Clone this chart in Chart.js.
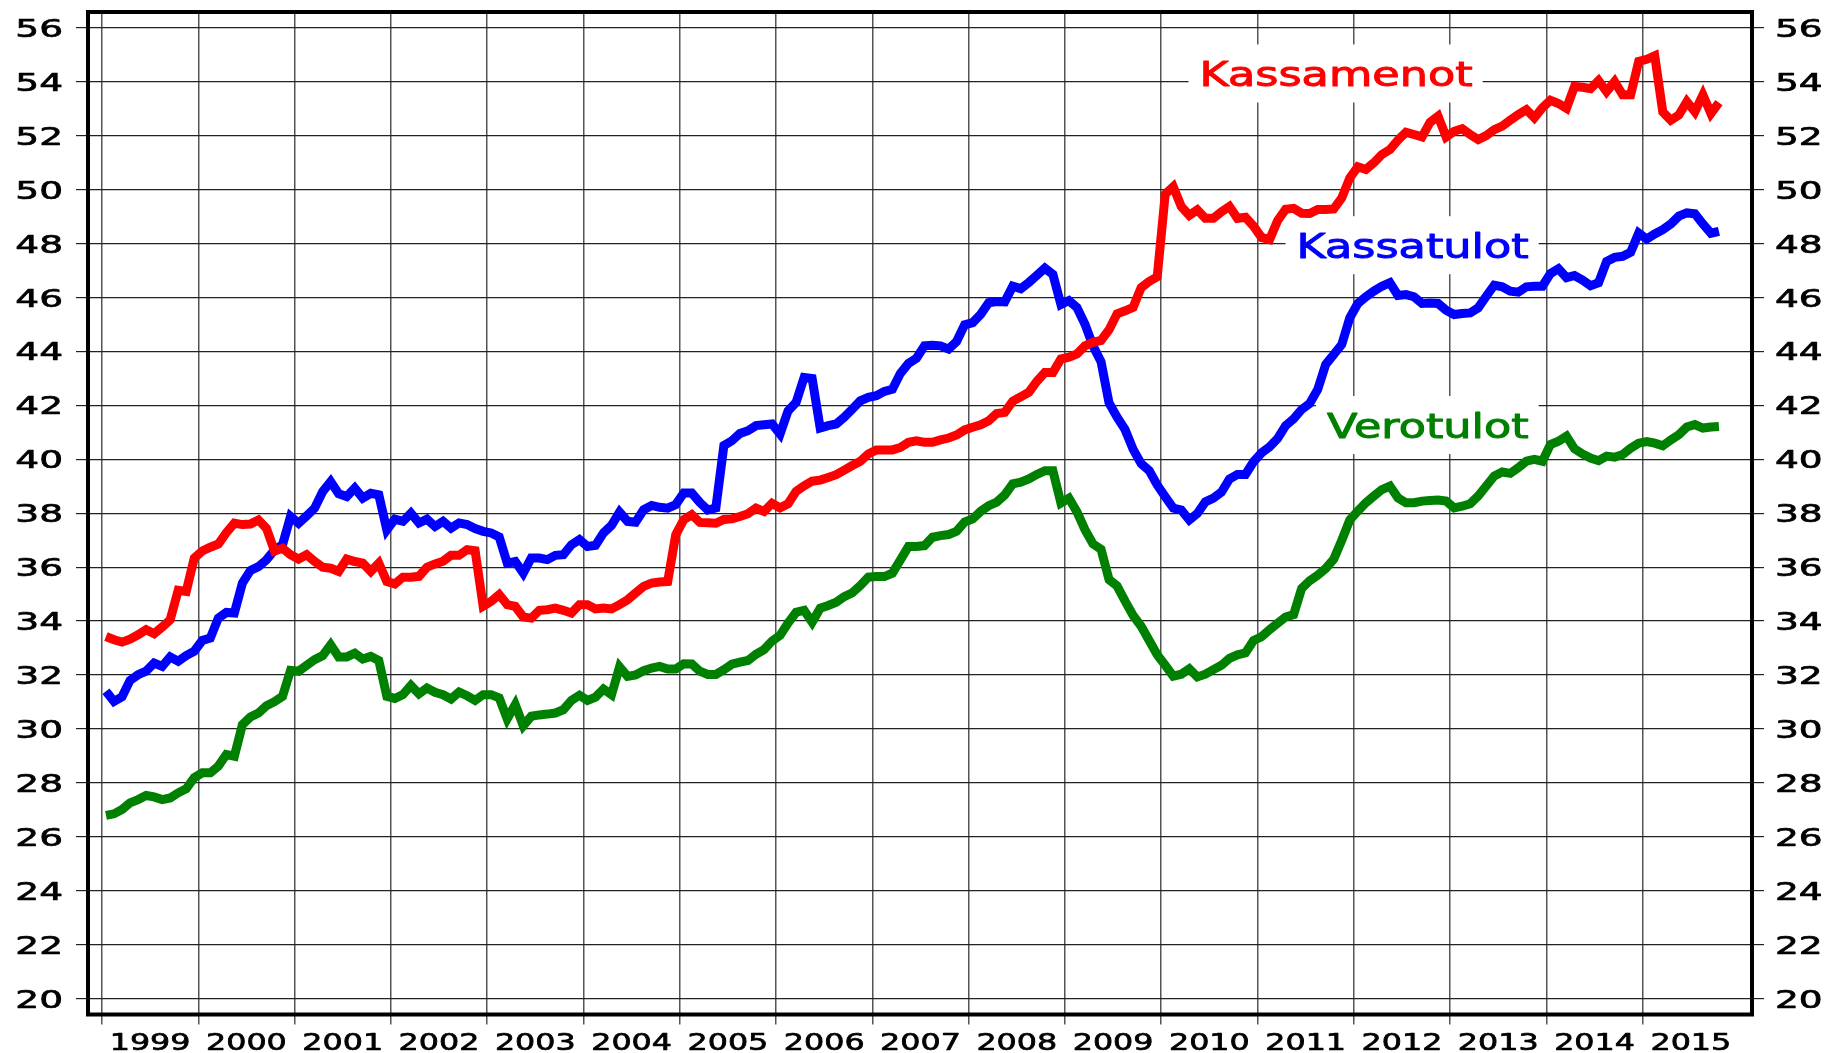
<!DOCTYPE html>
<html>
<head>
<meta charset="utf-8">
<title>Kassamenot, kassatulot ja verotulot</title>
<script src="https://cdn.jsdelivr.net/npm/chart.js@4.4.1/dist/chart.umd.min.js"></script>
<style>
  html, body { margin: 0; padding: 0; background: #fff; }
  canvas { display: block; }
</style>
</head>
<body>
<canvas id="valtio_chart" width="1827" height="1053"></canvas>
<script>
// 12 kk liukuvat summat, mrd. euroa, tammikuu 1999 - lokakuu 2015
let startYear = 1999;
let yearTicks = [1999, 2000, 2001, 2002, 2003, 2004, 2005, 2006, 2007, 2008, 2009, 2010, 2011, 2012, 2013, 2014, 2015];
let valueTicks = [20, 22, 24, 26, 28, 30, 32, 34, 36, 38, 40, 42, 44, 46, 48, 50, 52, 54, 56];

let kassamenot = [
    33.43, 33.31, 33.22, 33.33, 33.49, 33.68, 33.53, 33.78, 34.05, 35.14, 35.10, 36.33,
    36.60, 36.74, 36.86, 37.28, 37.63, 37.58, 37.60, 37.75, 37.44, 36.60, 36.70, 36.46,
    36.30, 36.46, 36.21, 36.00, 35.96, 35.84, 36.30, 36.21, 36.15, 35.84, 36.15, 35.47,
    35.38, 35.63, 35.63, 35.66, 36.00, 36.12, 36.22, 36.44, 36.44, 36.65, 36.61, 34.55,
    34.73, 34.98, 34.61, 34.55, 34.15, 34.11, 34.40, 34.42, 34.48, 34.40, 34.30, 34.61,
    34.61, 34.45, 34.48, 34.45, 34.61, 34.79, 35.04, 35.29, 35.41, 35.45, 35.47, 37.20,
    37.76, 37.95, 37.66, 37.65, 37.63, 37.77, 37.79, 37.88, 37.98, 38.19, 38.07, 38.37,
    38.20, 38.35, 38.81, 39.02, 39.19, 39.23, 39.33, 39.43, 39.60, 39.77, 39.93, 40.20,
    40.35, 40.35, 40.35, 40.44, 40.63, 40.69, 40.63, 40.63, 40.72, 40.79, 40.90, 41.09,
    41.19, 41.28, 41.43, 41.70, 41.74, 42.16, 42.32, 42.49, 42.89, 43.22, 43.22, 43.72,
    43.79, 43.91, 44.21, 44.34, 44.41, 44.81, 45.40, 45.51, 45.64, 46.37, 46.60, 46.77,
    49.84, 50.11, 49.38, 49.05, 49.25, 48.94, 48.94, 49.18, 49.38, 48.94, 48.98, 48.65,
    48.23, 48.15, 48.85, 49.28, 49.31, 49.13, 49.12, 49.27, 49.27, 49.29, 49.70, 50.44,
    50.85, 50.75, 51.00, 51.31, 51.49, 51.84, 52.13, 52.05, 51.96, 52.50, 52.73, 51.96,
    52.17, 52.26, 52.05, 51.86, 52.01, 52.23, 52.36, 52.58, 52.79, 52.97, 52.67, 53.04,
    53.32, 53.20, 53.02, 53.83, 53.80, 53.75, 54.05, 53.64, 54.01, 53.52, 53.52, 54.76,
    54.84, 54.97, 52.89, 52.58, 52.77, 53.27, 52.89, 53.52, 52.83, 53.23
];

let kassatulot = [
    31.40, 31.02, 31.19, 31.80, 32.01, 32.14, 32.44, 32.32, 32.67, 32.51, 32.72, 32.88,
    33.28, 33.37, 34.11, 34.32, 34.30, 35.41, 35.88, 36.02, 36.27, 36.64, 36.83, 37.88,
    37.63, 37.90, 38.19, 38.80, 39.17, 38.72, 38.62, 38.93, 38.56, 38.74, 38.68, 37.38,
    37.78, 37.70, 38.00, 37.64, 37.78, 37.51, 37.70, 37.45, 37.64, 37.58, 37.43, 37.33,
    37.27, 37.12, 36.15, 36.21, 35.78, 36.34, 36.34, 36.28, 36.44, 36.46, 36.83, 37.02,
    36.77, 36.81, 37.27, 37.55, 38.04, 37.70, 37.67, 38.13, 38.29, 38.22, 38.19, 38.32,
    38.75, 38.75, 38.40, 38.12, 38.20, 40.51, 40.69, 40.96, 41.06, 41.25, 41.28, 41.31,
    40.94, 41.80, 42.11, 43.04, 43.00, 41.16, 41.25, 41.31, 41.56, 41.86, 42.17, 42.30,
    42.36, 42.52, 42.60, 43.19, 43.56, 43.75, 44.21, 44.23, 44.21, 44.09, 44.37, 44.99,
    45.07, 45.38, 45.81, 45.85, 45.84, 46.42, 46.33, 46.56, 46.82, 47.09, 46.86, 45.74,
    45.89, 45.63, 45.01, 44.21, 43.62, 42.09, 41.56, 41.10, 40.37, 39.84, 39.58, 39.05,
    38.61, 38.19, 38.12, 37.75, 37.99, 38.42, 38.56, 38.78, 39.27, 39.44, 39.44, 39.91,
    40.24, 40.46, 40.77, 41.25, 41.50, 41.85, 42.07, 42.59, 43.52, 43.89, 44.26, 45.25,
    45.78, 46.03, 46.24, 46.42, 46.55, 46.08, 46.11, 46.03, 45.78, 45.80, 45.78, 45.53,
    45.37, 45.41, 45.43, 45.62, 46.05, 46.46, 46.40, 46.24, 46.20, 46.40, 46.42, 46.42,
    46.89, 47.07, 46.74, 46.82, 46.65, 46.44, 46.55, 47.34, 47.49, 47.53, 47.68, 48.39,
    48.17, 48.36, 48.52, 48.73, 49.02, 49.14, 49.11, 48.73, 48.39, 48.46
];

let verotulot = [
    26.79, 26.85, 27.01, 27.26, 27.38, 27.53, 27.48, 27.38, 27.44, 27.63, 27.78, 28.19,
    28.37, 28.37, 28.62, 29.05, 28.99, 30.16, 30.44, 30.59, 30.86, 31.01, 31.21, 32.17,
    32.14, 32.36, 32.57, 32.72, 33.12, 32.67, 32.67, 32.81, 32.59, 32.69, 32.54, 31.21,
    31.13, 31.27, 31.61, 31.30, 31.52, 31.36, 31.27, 31.11, 31.37, 31.23, 31.06, 31.27,
    31.27, 31.15, 30.37, 30.90, 30.12, 30.47, 30.52, 30.55, 30.59, 30.71, 31.06, 31.25,
    31.06, 31.18, 31.48, 31.27, 32.30, 31.95, 32.00, 32.16, 32.26, 32.32, 32.22, 32.22,
    32.42, 32.41, 32.14, 32.02, 32.02, 32.20, 32.40, 32.48, 32.54, 32.77, 32.94, 33.26,
    33.47, 33.93, 34.33, 34.40, 33.96, 34.48, 34.58, 34.70, 34.91, 35.05, 35.32, 35.63,
    35.65, 35.65, 35.78, 36.27, 36.77, 36.77, 36.80, 37.11, 37.17, 37.21, 37.33, 37.67,
    37.79, 38.07, 38.28, 38.41, 38.68, 39.09, 39.15, 39.27, 39.44, 39.58, 39.58, 38.38,
    38.56, 38.05, 37.39, 36.86, 36.66, 35.54, 35.30, 34.74, 34.21, 33.81, 33.28, 32.75,
    32.36, 31.96, 32.03, 32.23, 31.93, 32.03, 32.20, 32.36, 32.62, 32.75, 32.82, 33.28,
    33.42, 33.68, 33.92, 34.15, 34.24, 35.21, 35.50, 35.70, 35.95, 36.30, 37.00, 37.75,
    38.08, 38.39, 38.64, 38.88, 39.01, 38.57, 38.39, 38.39, 38.45, 38.47, 38.49, 38.45,
    38.20, 38.26, 38.35, 38.64, 39.01, 39.38, 39.53, 39.48, 39.69, 39.93, 40.00, 39.93,
    40.55, 40.67, 40.86, 40.39, 40.20, 40.05, 39.95, 40.12, 40.08, 40.18, 40.41, 40.60,
    40.66, 40.60, 40.50, 40.72, 40.91, 41.20, 41.29, 41.16, 41.20, 41.22
];

let seriesNames = ["Kassamenot", "Kassatulot", "Verotulot"];
let seriesColors = ["#ff0000", "#0000ff", "#008000"];

// kuukausi -> desimaalivuosi (kuukauden keskikohta)
function toPoints(values) {
    return values.map(function (v, i) {
        return { x: startYear + (i + 0.5) / 12, y: v };
    });
}

// nimen paikka: oikea reuna (vuosi) ja perusviiva (arvo)
let nameSpots = [
    { year: 2013.234, value: 53.83 },
    { year: 2013.816, value: 47.46 },
    { year: 2013.816, value: 40.79 }
];

const FONT = "DejaVu Sans";

function stretchText(ctx, text, x, y, align, size, sx, color, weight) {
    ctx.save();
    ctx.font = size + "px '" + FONT + "'";
    ctx.fillStyle = color;
    ctx.strokeStyle = color;
    ctx.lineWidth = weight;
    ctx.lineJoin = "round";
    ctx.textBaseline = "alphabetic";
    ctx.textAlign = align;
    ctx.translate(x, y);
    ctx.scale(sx, 1);
    ctx.fillText(text, 0, 0);
    if (weight > 0) ctx.strokeText(text, 0, 0);
    ctx.restore();
}

function nameWidth(ctx, text) {
    ctx.save();
    ctx.font = "34px '" + FONT + "'";
    let w = ctx.measureText(text).width * 1.31;
    ctx.restore();
    return w;
}

const textPlugin = {
    id: "textPlugin",
    beforeDatasetsDraw(chart) {
        let ctx = chart.ctx;
        let xs = chart.scales.x, ys = chart.scales.y;
        ctx.save();
        ctx.fillStyle = "#ffffff";
        nameSpots.forEach(function (s, i) {
            let right = xs.getPixelForValue(s.year);
            let base = ys.getPixelForValue(s.value);
            let w = nameWidth(ctx, seriesNames[i]);
            ctx.fillRect(right - w - 11, base - 42, w + 21, 58);
        });
        ctx.restore();
    },
    afterDraw(chart) {
        let ctx = chart.ctx;
        let a = chart.chartArea;
        let xs = chart.scales.x, ys = chart.scales.y;

        // kehys
        ctx.save();
        ctx.strokeStyle = "#000";
        ctx.lineWidth = 4;
        ctx.strokeRect(a.left, a.top, a.right - a.left, a.bottom - a.top);
        ctx.restore();

        // y-akselin luvut molemmin puolin
        valueTicks.forEach(function (v) {
            let py = ys.getPixelForValue(v) + 9;
            stretchText(ctx, String(v), 63, py, "right", 25, 1.5, "#000", 0.7);
            stretchText(ctx, String(v), 1775, py, "left", 25, 1.5, "#000", 0.7);
        });

        // vuodet välien keskelle
        yearTicks.forEach(function (yr) {
            let px = xs.getPixelForValue(yr + 0.5);
            stretchText(ctx, String(yr), px, a.bottom + 35, "center", 23, 1.38, "#000", 0.7);
        });

        // sarjojen nimet
        nameSpots.forEach(function (s, i) {
            let right = xs.getPixelForValue(s.year);
            let base = ys.getPixelForValue(s.value);
            stretchText(ctx, seriesNames[i], right, base, "right", 34, 1.31, seriesColors[i], 1.0);
        });
    }
};

let datasets = [kassamenot, kassatulot, verotulot].map(function (vals, i) {
    return {
        label: seriesNames[i],
        data: toPoints(vals),
        borderColor: seriesColors[i],
        backgroundColor: seriesColors[i],
        borderWidth: 9,
        pointRadius: 0,
        tension: 0,
        fill: false
    };
});

new Chart(document.getElementById("valtio_chart"), {
    type: "line",
    data: { datasets: datasets },
    plugins: [textPlugin],
    options: {
        responsive: false,
        animation: false,
        devicePixelRatio: 1,
        layout: { padding: { top: 12, left: 0, right: 0, bottom: 0 } },
        plugins: {
            legend: { display: false },
            tooltip: { enabled: false }
        },
        scales: {
            x: {
                type: "linear",
                min: 1998.855,
                max: 2016.135,
                afterBuildTicks: function (axis) {
                    axis.ticks = yearTicks.map(function (v) { return { value: v }; });
                },
                afterFit: function (axis) { axis.height = 38.5; },
                ticks: { display: false },
                border: { display: false },
                grid: { color: "#555", lineWidth: 1.5, tickLength: 10 }
            },
            y: {
                position: "left",
                min: 19.407,
                max: 56.593,
                afterBuildTicks: function (axis) {
                    axis.ticks = valueTicks.map(function (v) { return { value: v }; });
                },
                afterFit: function (axis) { axis.width = 88; },
                ticks: { display: false },
                border: { display: false },
                grid: { color: "#222", lineWidth: 1.2, tickLength: 12 }
            },
            y2: {
                position: "right",
                min: 19.407,
                max: 56.593,
                afterBuildTicks: function (axis) {
                    axis.ticks = valueTicks.map(function (v) { return { value: v }; });
                },
                afterFit: function (axis) { axis.width = 75; },
                ticks: { display: false },
                border: { display: false },
                grid: { drawOnChartArea: false, color: "#222", lineWidth: 1.2, tickLength: 12 }
            }
        }
    }
});
</script>
</body>
</html>
